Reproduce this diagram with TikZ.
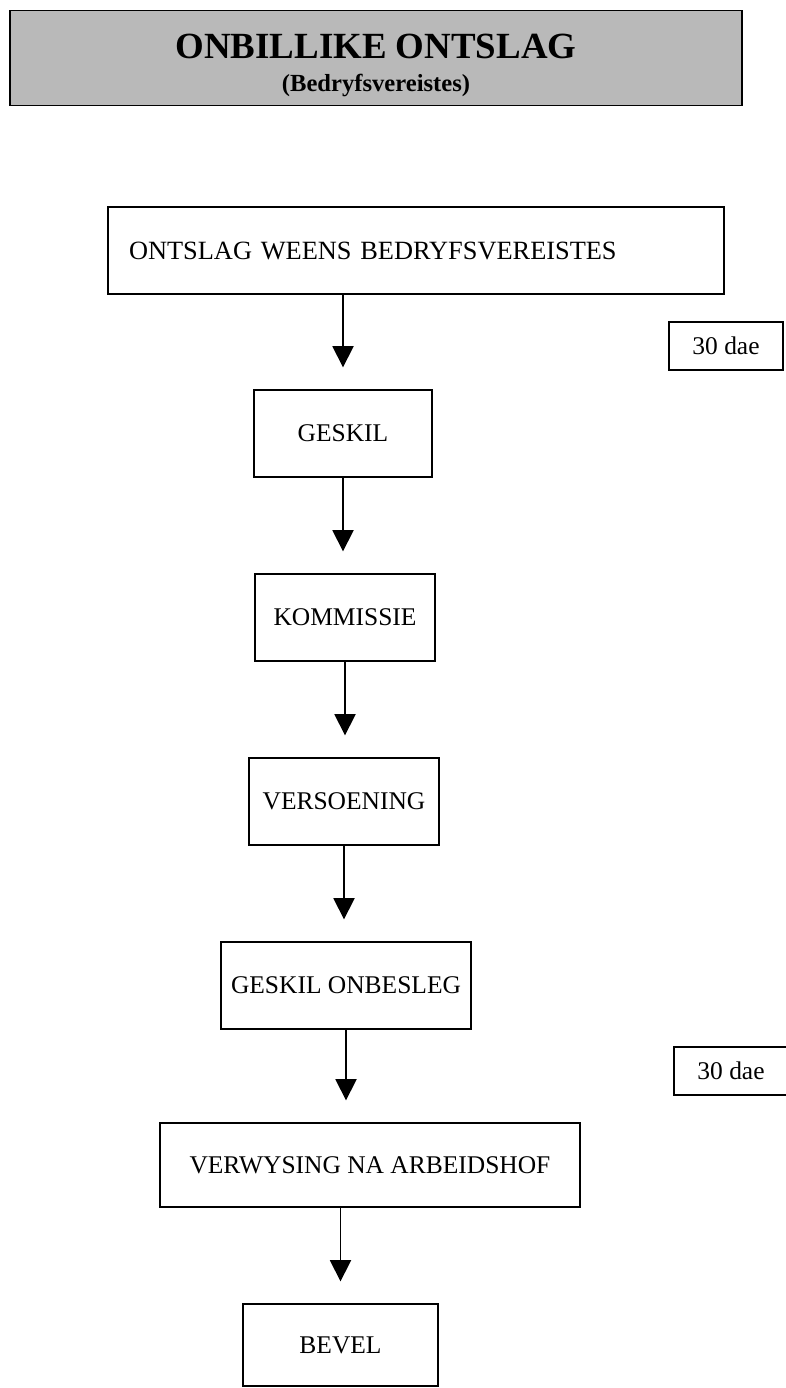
\documentclass[tikz,border=0pt]{standalone}
\usepackage{fontspec}
\setmainfont{Liberation Serif}
\usetikzlibrary{arrows.meta,positioning}
\tikzset{stage/.style={draw, line width=.8pt, minimum height=1.74cm, inner sep=0pt, font=\fontsize{14.5}{17}\selectfont}}
\tikzset{flow/.style={line width=.9pt, -{Triangle[width=12pt,length=12pt]}, shorten >=.44cm}}
\tikzset{period/.style={draw, line width=1pt, minimum width=2.28cm, minimum height=.96cm, inner sep=0pt, font=\fontsize{14.5}{17}\selectfont}}

\begin{document}
\begin{tikzpicture} [x=.02cm, y=-.02cm]
\useasboundingbox (0,0) rectangle (785,1388);
% banner
\node[draw, line width=1pt, fill=gray!55, minimum width=14.64cm, minimum height=1.9cm, inner sep=0] (banner) at (376,58) {};
\node[font=\bfseries\fontsize{21}{24}\selectfont] (title) at (376,46) {ONBILLIKE ONTSLAG};
\node[font=\bfseries\fontsize{14}{17}\selectfont] (subtitle) at (376,86) {(Bedryfsvereistes)};
% stages
\node[stage, font=\fontsize{15}{18}\selectfont, minimum width=12.32cm, text width=11.48cm, align=left, inner xsep=.42cm] (ontslag) at (416,250.5) {ONTSLAG WEENS BEDRYFSVEREISTES};
\node[stage, minimum width=3.56cm] (geskil) at (343,433.5) {GESKIL};
\node[stage, minimum width=3.6cm] (kommissie) at (345,617.5) {KOMMISSIE};
\node[stage, minimum width=3.8cm] (versoening) at (344,801.5) {VERSOENING};
\node[stage, minimum width=5cm] (onbesleg) at (346,985.5) {GESKIL ONBESLEG};
\node[stage, minimum width=8.4cm, minimum height=1.68cm] (verwysing) at (370,1165) {VERWYSING NA ARBEIDSHOF};
\node[stage, minimum width=3.9cm, minimum height=1.64cm] (bevel) at (340.5,1345) {BEVEL};
% arrows
\draw[flow] (geskil.north |- ontslag.south) -- (geskil.north);
\foreach \a/\b in {geskil/kommissie, kommissie/versoening, versoening/onbesleg, onbesleg/verwysing} {
 \draw[flow] (\a.south) -- (\a.south |- \b.north);
}
\draw[flow] (bevel.north |- verwysing.south) -- (bevel.north);
% periods
\node[period] (dae1) at (726,346) {30 dae};
\node[period] (dae2) at (731,1071) {30 dae};
\end{tikzpicture}
\end{document}
